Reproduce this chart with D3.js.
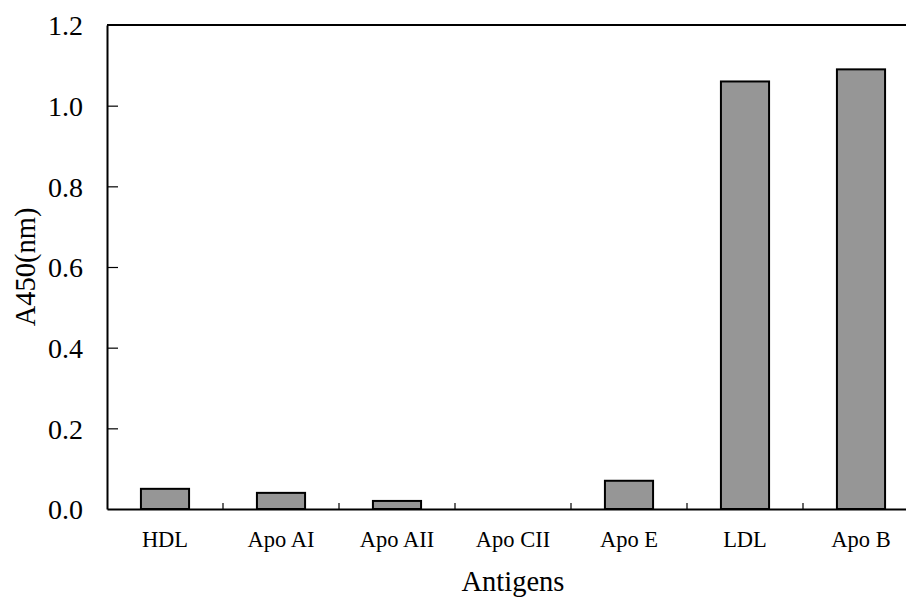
<!DOCTYPE html>
<html>
<head>
<meta charset="utf-8">
<script src="https://cdn.jsdelivr.net/npm/d3@7"></script>
<style>
  body { margin: 0; background: #fff; }
  svg { display: block; font-family: "Liberation Serif", "Times New Roman", serif; }
</style>
</head>
<body>
<svg id="chart" width="906" height="599"></svg>
<script>
var categories = ['HDL', 'Apo AI', 'Apo AII', 'Apo CII', 'Apo E', 'LDL', 'Apo B'];
var values = [0.05, 0.04, 0.02, 0.0, 0.07, 1.06, 1.09];
var yTicks = [0, 0.2, 0.4, 0.6, 0.8, 1.0, 1.2];

var svg = d3.select('#chart');

// plot runs past the right edge of the picture
var plotLeft = 107, plotTop = 25, plotBottom = 509;
var step = 116;
var plotRight = plotLeft + step * categories.length;

var x = d3.scaleBand()
  .domain(categories)
  .range([plotLeft, plotRight])
  .paddingInner(0.585)
  .paddingOuter(0.2925);

var y = d3.scaleLinear()
  .domain([0, 1.2])
  .range([plotBottom, plotTop]);

// bars (zero-height bars are not drawn)
svg.append('g')
  .selectAll('rect')
  .data(values.map(function (v, i) { return { cat: categories[i], val: v }; })
    .filter(function (d) { return d.val > 0; }))
  .enter()
  .append('rect')
  .attr('x', function (d) { return x(d.cat); })
  .attr('y', function (d) { return y(d.val); })
  .attr('width', x.bandwidth())
  .attr('height', function (d) { return plotBottom - y(d.val); })
  .style('fill', '#969696')
  .style('stroke', '#000')
  .style('stroke-width', 2);

// top border
svg.append('line')
  .attr('x1', plotLeft).attr('x2', plotRight)
  .attr('y1', y(1.2)).attr('y2', y(1.2))
  .style('stroke', '#000').style('stroke-width', 2);

// y axis
var yAxis = d3.axisLeft(y)
  .tickValues(yTicks)
  .tickFormat(d3.format('.1f'))
  .tickSizeInner(-11)
  .tickSizeOuter(0)
  .tickPadding(24);

var gy = svg.append('g')
  .attr('transform', 'translate(' + plotLeft + ',0)')
  .call(yAxis);
gy.select('.domain').style('stroke-width', 2);
gy.selectAll('.tick line').style('stroke-width', 1.2)
  .filter(function (d) { return d === 0 || d === 1.2; }).remove();
gy.selectAll('.tick text')
  .style('font-family', '"Liberation Serif", serif')
  .style('font-size', '28px')
  .attr('dy', '0.35em');

// x axis
var xAxis = d3.axisBottom(x)
  .tickSize(0)
  .tickPadding(0);

var gx = svg.append('g')
  .attr('transform', 'translate(0,' + plotBottom + ')')
  .call(xAxis);
gx.select('.domain').style('stroke-width', 2);
gx.selectAll('.tick text')
  .style('font-family', '"Liberation Serif", serif')
  .style('font-size', '22.5px')
  .attr('y', 38)
  .attr('dy', 0);

// inward ticks between categories
gx.selectAll('line.sep')
  .data(categories.slice(1))
  .enter()
  .append('line')
  .attr('class', 'sep')
  .attr('x1', function (d) { return x(d) - x.step() * x.paddingInner() / 2; })
  .attr('x2', function (d) { return x(d) - x.step() * x.paddingInner() / 2; })
  .attr('y1', 0)
  .attr('y2', -6)
  .style('stroke', '#000')
  .style('stroke-width', 1.2);

// axis titles
svg.append('text')
  .attr('x', (plotLeft + plotRight) / 2)
  .attr('y', 591)
  .attr('text-anchor', 'middle')
  .style('font-size', '28.5px')
  .text('Antigens');

svg.append('text')
  .attr('transform', 'translate(35,' + 267 + ') rotate(-90)')
  .attr('text-anchor', 'middle')
  .style('font-size', '28.5px')
  .text('A450(nm)');
</script>
</body>
</html>
